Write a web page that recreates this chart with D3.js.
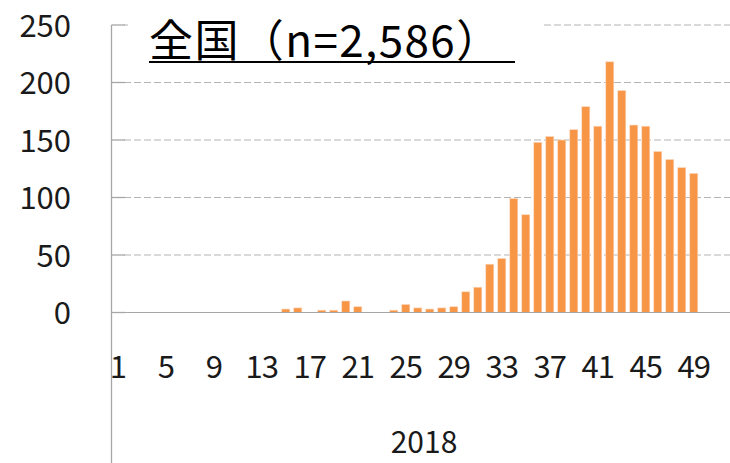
<!DOCTYPE html>
<html>
<head>
<meta charset="utf-8">
<script src="https://cdn.jsdelivr.net/npm/d3@7"></script>
<style>
  body { margin: 0; background: #fff; }
  svg { display: block; }
</style>
</head>
<body>
<div id="chart"></div>
<script>
// weekly counts, 2018 (week 1 .. 52)
const weeks = [1, 2, 3, 4, 5, 6, 7, 8, 9, 10, 11, 12, 13, 14, 15, 16, 17, 18, 19, 20,
  21, 22, 23, 24, 25, 26, 27, 28, 29, 30, 31, 32, 33, 34, 35, 36, 37, 38, 39, 40,
  41, 42, 43, 44, 45, 46, 47, 48, 49, 50, 51, 52];
const counts = [0, 0, 0, 0, 0, 0, 0, 0, 0, 0, 0, 0, 0, 0, 3, 4, 0, 2, 2, 10,
  5, 0, 0, 2, 7, 4, 3, 4, 5, 18, 22, 42, 47, 99, 85, 148, 153, 150, 159, 179,
  162, 218, 193, 163, 162, 140, 133, 126, 121, 0, 0, 0];
const tickWeeks = [1, 5, 9, 13, 17, 21, 25, 29, 33, 37, 41, 45, 49];
const yTicks = [0, 50, 100, 150, 200, 250];
const yearLabel = "2018";
const title = "全国（n=2,586）";

const width = 730, height = 463;
const font = "'Noto Sans CJK JP', 'Noto Sans', sans-serif";
const axisColor = "#a6a6a6";

const svg = d3.select("#chart").append("svg")
  .attr("width", width)
  .attr("height", height);

const x = d3.scaleBand()
  .domain(weeks)
  .range([111.8, 735.8])
  .paddingInner(0.33)
  .paddingOuter(0.165);

const y = d3.scaleLinear()
  .domain([0, 250])
  .range([312.5, 25]);

// dashed gridlines
svg.append("g")
  .selectAll("line")
  .data(yTicks.filter(d => d > 0))
  .join("line")
  .attr("x1", 124).attr("x2", width)
  .attr("y1", d => y(d)).attr("y2", d => y(d))
  .attr("stroke", "#b3b3b3")
  .attr("stroke-width", 1)
  .attr("stroke-dasharray", "7,3");

// inner tick marks
svg.append("g")
  .selectAll("line")
  .data(yTicks)
  .join("line")
  .attr("x1", 111.5).attr("x2", 125)
  .attr("y1", d => y(d)).attr("y2", d => y(d))
  .attr("stroke", axisColor)
  .attr("stroke-width", 1.3);

// bars
svg.append("g")
  .selectAll("rect")
  .data(weeks.map((w, i) => ({ week: w, value: counts[i] })).filter(d => d.value > 0))
  .join("rect")
  .attr("x", d => x(d.week))
  .attr("width", x.bandwidth())
  .attr("y", d => y(d.value))
  .attr("height", d => y(0) - y(d.value))
  .attr("fill", "#f79646")
  .attr("stroke", "#fcd9bf")
  .attr("stroke-width", 0.6);

// baseline
svg.append("line")
  .attr("x1", 111.5).attr("x2", width)
  .attr("y1", y(0)).attr("y2", y(0))
  .attr("stroke", axisColor)
  .attr("stroke-width", 1.2);

// vertical axis line (runs down through the category labels)
svg.append("line")
  .attr("x1", 111.5).attr("x2", 111.5)
  .attr("y1", y(250)).attr("y2", height)
  .attr("stroke", axisColor)
  .attr("stroke-width", 1.3);

// y labels
svg.append("g")
  .selectAll("text")
  .data(yTicks)
  .join("text")
  .attr("x", 71)
  .attr("y", d => y(d) + 11.5)
  .attr("text-anchor", "end")
  .attr("font-family", font)
  .attr("font-size", 31)
  .attr("fill", "#1a1a1a")
  .text(d => d);

// x labels
svg.append("g")
  .selectAll("text")
  .data(tickWeeks)
  .join("text")
  .attr("x", d => x(d) + x.bandwidth() / 2)
  .attr("y", 378)
  .attr("text-anchor", "middle")
  .attr("font-family", font)
  .attr("font-size", 31)
  .attr("letter-spacing", -1)
  .attr("fill", "#1a1a1a")
  .text(d => d);

svg.append("text")
  .attr("x", 424)
  .attr("y", 453)
  .attr("text-anchor", "middle")
  .attr("font-family", font)
  .attr("font-size", 30)
  .attr("fill", "#1a1a1a")
  .text(yearLabel);

// title box
svg.append("rect")
  .attr("x", 128).attr("y", 4)
  .attr("width", 413).attr("height", 64)
  .attr("fill", "#fff");

svg.append("text")
  .attr("x", 149)
  .attr("y", 57)
  .attr("font-family", font)
  .attr("font-size", 44)
  .attr("letter-spacing", 1.4)
  .attr("fill", "#000")
  .text(title);

svg.append("line")
  .attr("x1", 149).attr("x2", 515)
  .attr("y1", 62).attr("y2", 62)
  .attr("stroke", "#000")
  .attr("stroke-width", 2);
</script>
</body>
</html>
